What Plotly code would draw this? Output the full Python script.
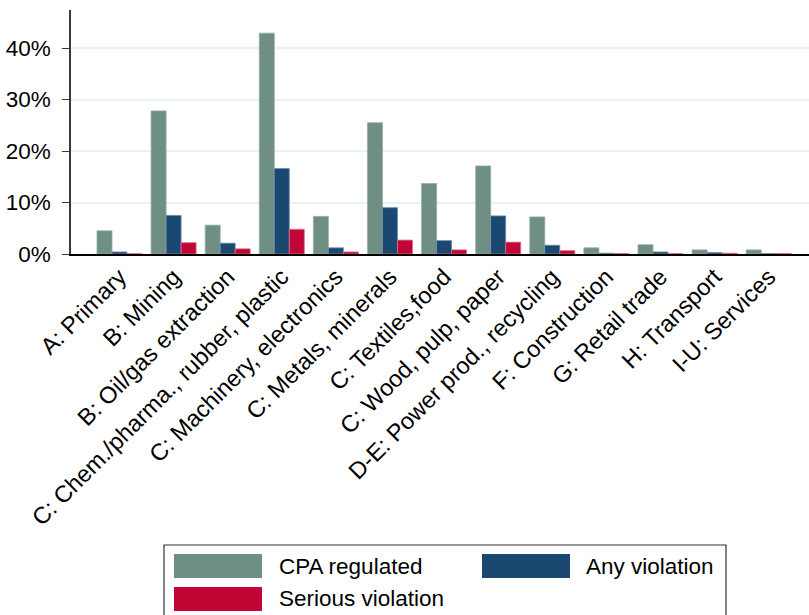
import plotly.graph_objects as go

# Sector categories and shares of firms (percent)
sectors = [
    "A: Primary",
    "B: Mining",
    "B: Oil/gas extraction",
    "C: Chem./pharma., rubber, plastic",
    "C: Machinery, electronics",
    "C: Metals, minerals",
    "C: Textiles,food",
    "C: Wood, pulp, paper",
    "D-E: Power prod., recycling",
    "F: Construction",
    "G: Retail trade",
    "H: Transport",
    "I-U: Services",
]
cpa_regulated = [4.5, 27.8, 5.6, 42.9, 7.3, 25.5, 13.7, 17.1, 7.2, 1.2, 1.8, 0.8, 0.8]
any_violation = [0.4, 7.5, 2.1, 16.6, 1.2, 9.0, 2.6, 7.4, 1.7, 0.15, 0.4, 0.3, 0.1]
serious_violation = [0.05, 2.2, 1.0, 4.8, 0.4, 2.7, 0.8, 2.3, 0.65, 0.1, 0.1, 0.15, 0.1]
y_ticks = [0, 10, 20, 30, 40]
y_tick_text = ["0%", "10%", "20%", "30%", "40%"]

series = [
    ("CPA regulated", cpa_regulated, "#6f8f84", "#93aca3"),
    ("Any violation", any_violation, "#1b4870", "#6f8cab"),
    ("Serious violation", serious_violation, "#c10534", "#de6b86"),
]

W, H = 809, 615
L, R, T, B = 71, 809, 10, 254  # plot area in pixels

fig = go.Figure()
for name, vals, color, edge in series:
    fig.add_trace(go.Bar(
        x=sectors, y=vals, name=name,
        marker=dict(color=color, line=dict(color=edge, width=0.8)),
        showlegend=False,
    ))

font = "Liberation Sans, Arial, sans-serif"

fig.update_layout(
    width=W, height=H,
    margin=dict(l=L, r=W - R, t=T, b=H - B, pad=0),
    paper_bgcolor="white", plot_bgcolor="white",
    barmode="group", bargap=0.168, bargroupgap=0,
    font=dict(family=font, size=22, color="#000000"),
    xaxis=dict(
        type="category",
        range=[-0.8965, 12.745],
        tickangle=-45,
        tickfont=dict(size=23.5),
        showgrid=False,
        showline=True, linecolor="#000000", linewidth=1.5,
        ticks="", ticklabelstandoff=-2,
        zeroline=False,
    ),
    yaxis=dict(
        range=[0, 47.4],
        tickvals=y_ticks, ticktext=y_tick_text,
        tickfont=dict(size=22.5),
        showgrid=True, gridcolor="#eaf2f3", gridwidth=1.5,
        showline=True, linecolor="#3a3a3a", linewidth=1.5,
        ticks="outside", ticklen=7, tickcolor="#3a3a3a", tickwidth=1.2,
        ticklabelstandoff=7,
        zeroline=False,
    ),
)

# Legend panel below the plot, drawn in paper coordinates
def px(x):
    return (x - L) / (R - L)

def py(y):
    return (B - y) / (B - T)

shapes = [dict(type="rect", xref="paper", yref="paper",
               x0=px(164), x1=px(726), y0=py(545), y1=py(640),
               line=dict(color="#333333", width=1.2), fillcolor="white", layer="below")]
annotations = []
slots = [(174, 554, 277), (482, 554, 584), (174, 587, 277)]
for (name, _, color, _), (sx, sy, tx) in zip(series, slots):
    shapes.append(dict(type="rect", xref="paper", yref="paper",
                       x0=px(sx), x1=px(sx + 88), y0=py(sy), y1=py(sy + 24),
                       line=dict(width=0), fillcolor=color))
    annotations.append(dict(xref="paper", yref="paper", x=px(tx), y=py(sy + 12),
                            text=name, showarrow=False, xanchor="left", yanchor="middle",
                            font=dict(size=22.5, family=font, color="#000000")))

fig.update_layout(shapes=shapes, annotations=annotations)

fig.write_html("out.html")
